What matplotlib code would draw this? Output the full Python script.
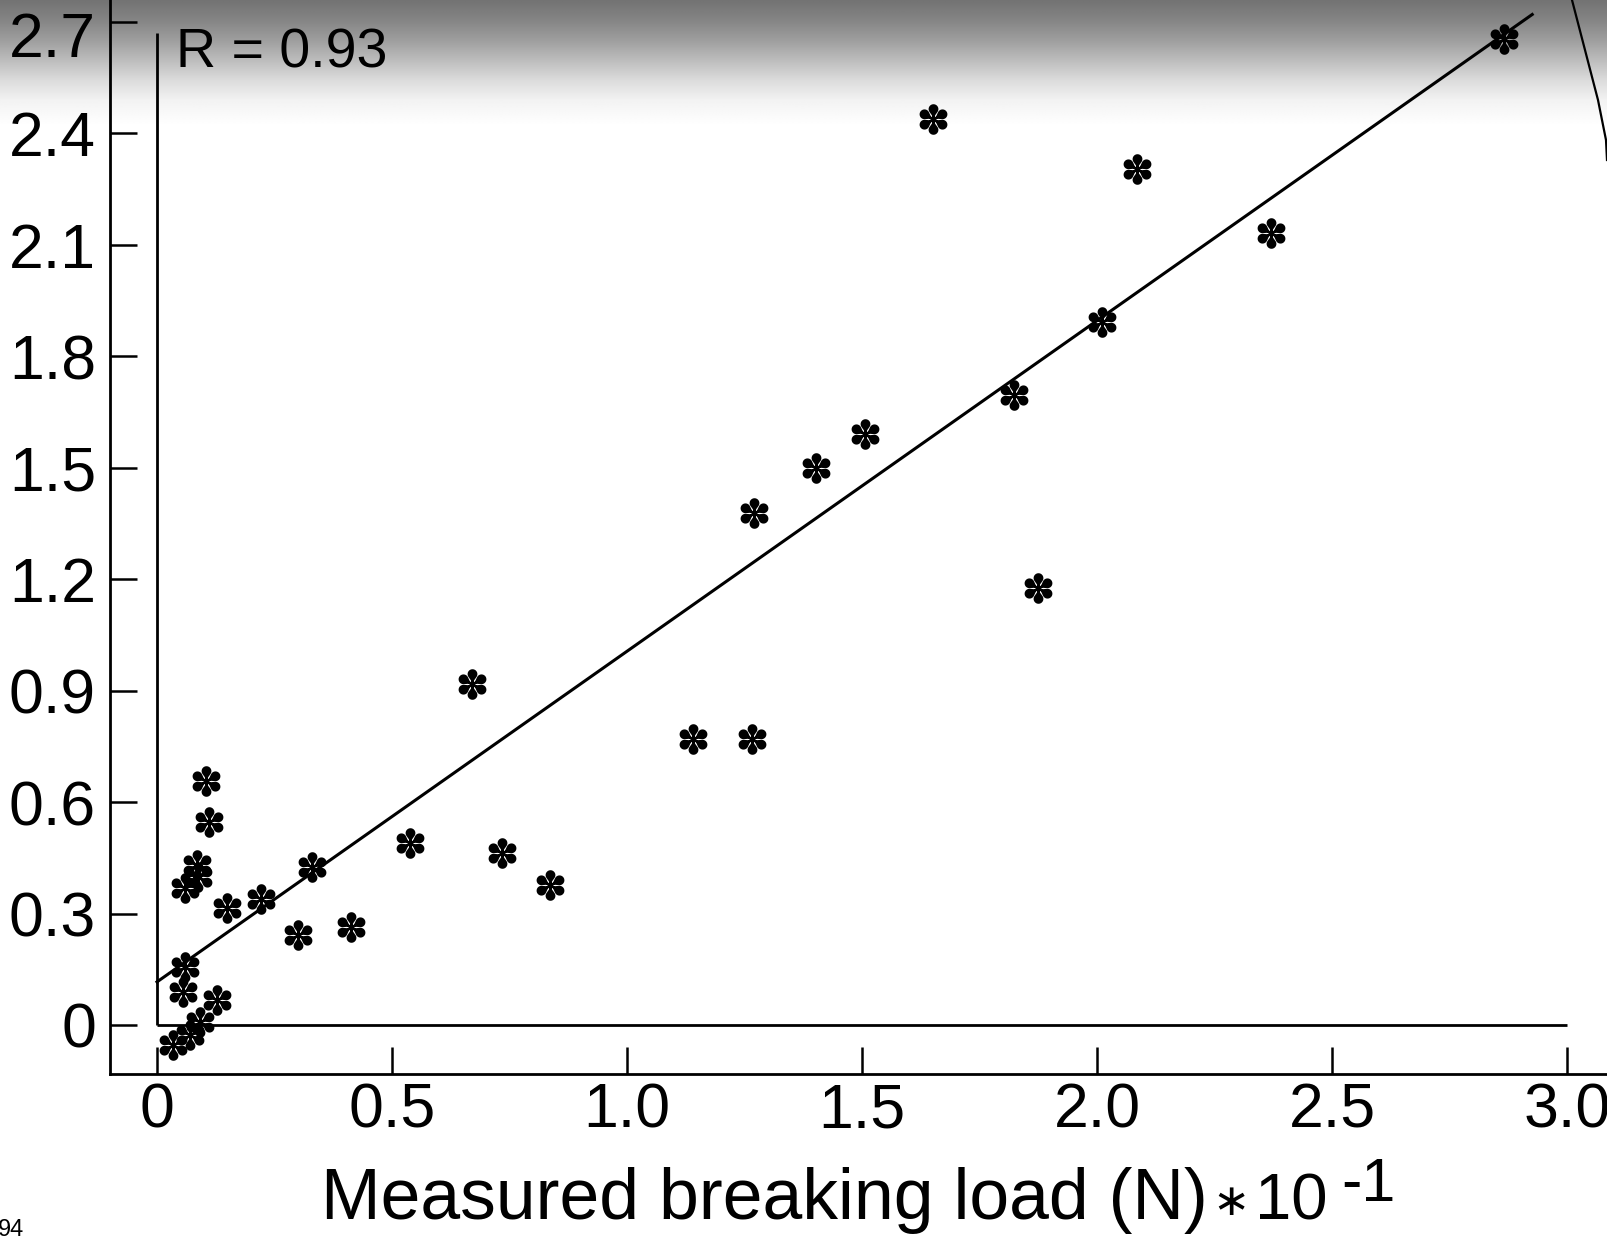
import numpy as np
import matplotlib
matplotlib.use("Agg")
import matplotlib.pyplot as plt
from matplotlib.lines import Line2D
from matplotlib.path import Path
from matplotlib.transforms import ScaledTranslation

plt.rcParams["font.family"] = ["Liberation Sans", "DejaVu Sans"]

# Measured breaking load (N x 10^-1) and the paired predicted load
measured = [2.865, 1.650, 2.086, 2.370, 2.010, 1.823, 1.506, 1.402, 1.271, 1.875,
            0.671, 1.140, 1.267, 0.735, 0.837, 0.538, 0.329, 0.301, 0.412, 0.222,
            0.148, 0.105, 0.111, 0.085, 0.087, 0.060, 0.060, 0.055, 0.128, 0.091,
            0.070, 0.034]
predicted = [2.655, 2.440, 2.305, 2.131, 1.891, 1.695, 1.590, 1.499, 1.377, 1.176,
             0.919, 0.770, 0.770, 0.464, 0.378, 0.489, 0.425, 0.243, 0.265, 0.338,
             0.315, 0.657, 0.546, 0.431, 0.398, 0.369, 0.156, 0.089, 0.067, 0.008,
             -0.027, -0.054]

# Least-squares line
fit_intercept = 0.116
fit_slope = 0.890
fit_xmax = 2.926
corr_text = "R = 0.93"

x_ticks = [0, 0.5, 1.0, 1.5, 2.0, 2.5, 3.0]
x_tick_labels = ["0", "0.5", "1.0", "1.5", "2.0", "2.5", "3.0"]
y_ticks = [0, 0.3, 0.6, 0.9, 1.2, 1.5, 1.8, 2.1, 2.4, 2.7]
y_tick_labels = ["0", "0.3", "0.6", "0.9", "1.2", "1.5", "1.8", "2.1", "2.4", "2.7"]
x_label = "Measured breaking load (N)"


def teardrop_asterisk(n_spokes=6, apex=0.12, dist=0.56, radius=0.32, stem=0.085):
    """Six-spoked asterisk: stems ending in round teardrops."""
    beta0 = np.arccos(radius / dist)
    betas = np.linspace(beta0, 2 * np.pi - beta0, 40)
    drop = np.column_stack([
        np.concatenate([[0.0], radius * np.sin(betas)]),
        np.concatenate([[apex], apex + dist - radius * np.cos(betas)]),
    ])
    # counter-clockwise like the drop outline
    bar = np.array([[stem, 0.0], [stem, apex + 0.15], [-stem, apex + 0.15], [-stem, 0.0]])
    verts, codes = [], []
    for k in range(n_spokes):
        ang = k * 2 * np.pi / n_spokes
        rot = np.array([[np.cos(ang), -np.sin(ang)], [np.sin(ang), np.cos(ang)]])
        for shape in (drop, bar):
            pts = shape @ rot.T
            verts.extend(pts.tolist())
            verts.append(pts[0].tolist())
            codes.extend([Path.MOVETO] + [Path.LINETO] * (len(pts) - 1) + [Path.CLOSEPOLY])
    return Path(verts, codes)


# ---- layout (pixels) ----
W, H = 1607, 1239
x0_px, px_per_x = 157.0, 470.0
y0_px, px_per_y = 1025.0, 371.5
ax_left_px, ax_bottom_px = 110.0, 1074.0

fig = plt.figure(figsize=(W / 100, H / 100), dpi=100)
fig.patch.set_facecolor("white")

# shaded band along the top edge of the page
bg = fig.add_axes([0, 0, 1, 1], zorder=-5)
rows = np.arange(H)
shade = np.interp(rows, [0, 20, 40, 60, 80, 100, 125, H],
                  [0.45, 0.52, 0.62, 0.74, 0.86, 0.95, 1.0, 1.0])
bg.imshow(np.tile(shade[:, None], (1, 8)), cmap="gray", vmin=0, vmax=1,
          aspect="auto", extent=[0, 1, 0, 1], interpolation="bilinear")
bg.axis("off")

ax = fig.add_axes([ax_left_px / W, (H - ax_bottom_px) / H,
                   (W - ax_left_px) / W, ax_bottom_px / H])
ax.set_facecolor("none")
ax.set_xlim((ax_left_px - x0_px) / px_per_x, (W - x0_px) / px_per_x)
ax.set_ylim((y0_px - ax_bottom_px) / px_per_y, y0_px / px_per_y)

for side in ("top", "right"):
    ax.spines[side].set_visible(False)
for side in ("left", "bottom"):
    ax.spines[side].set_linewidth(2.0)

ax.set_xticks(x_ticks)
ax.set_xticklabels(x_tick_labels)
ax.set_yticks(y_ticks)
ax.set_yticklabels(y_tick_labels)
ax.tick_params(axis="both", direction="in", length=19.5, width=1.8,
               labelsize=45, color="black")
ax.tick_params(axis="x", pad=5.5)
ax.tick_params(axis="y", pad=10)

# top label sits a little lower on the curled page
top_label = ax.get_yticklabels()[-1]
top_label.set_transform(top_label.get_transform()
                        + ScaledTranslation(0, -9 / 72, fig.dpi_scale_trans))

# inner frame at the origin
ax.plot([0, 0], [0, 2.67], color="black", lw=2.0, solid_capstyle="butt")
ax.plot([0, 3.0], [0, 0], color="black", lw=2.0, solid_capstyle="butt")

# regression line
fx = np.array([0.0, fit_xmax])
ax.plot(fx, fit_intercept + fit_slope * fx, color="black", lw=2.2)

# data points
ax.plot(measured, predicted, ls="none", marker=teardrop_asterisk(), ms=22,
        color="black", markeredgewidth=0)

ax.text(0.04, (y0_px - 67) / px_per_y, corr_text, fontsize=40,
        va="baseline", ha="left")

# x-axis title with multiplier
yb = 1 - 1219 / H
t1 = fig.text(321 / W, yb, x_label, fontsize=51.5, va="baseline", ha="left")
t2 = ax.annotate("\u2217", xy=(1, yb), xycoords=(t1, "figure fraction"),
                 xytext=(3, 3), textcoords="offset points", fontsize=32,
                 va="baseline", ha="left", family=["DejaVu Sans"],
                 annotation_clip=False)
t3 = ax.annotate("10", xy=(1, yb), xycoords=(t2, "figure fraction"),
                 xytext=(4, 0), textcoords="offset points", fontsize=47,
                 va="baseline", ha="left", annotation_clip=False)
ax.annotate("-1", xy=(1, yb), xycoords=(t3, "figure fraction"),
            xytext=(10, 13), textcoords="offset points", fontsize=44,
            va="baseline", ha="left", annotation_clip=False)

fig.text(-2 / W, 1 - 1236 / H, "94", fontsize=17, va="baseline", ha="left")

# curled page edge on the right
edge_x = np.array([1572, 1585, 1598, 1606, 1607])
edge_y = np.array([0, 50, 100, 140, 160])
fig.add_artist(Line2D(edge_x / W, 1 - edge_y / H, transform=fig.transFigure,
                      color="black", lw=1.6))

fig.savefig("out.png", dpi=100, facecolor=fig.get_facecolor())
